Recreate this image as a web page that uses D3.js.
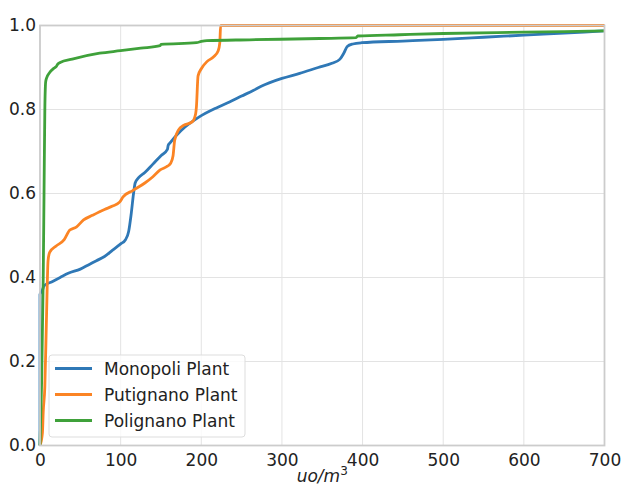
<!DOCTYPE html>
<html>
<head>
<meta charset="utf-8">
<script src="https://cdn.jsdelivr.net/npm/d3@7"></script>
<style>
  body { margin: 0; background: #fff; }
  svg { display: block; font-family: "DejaVu Sans", sans-serif; }
</style>
</head>
<body>
<div id="chart"></div>
<script>
// odour concentration (uo/m3) vs cumulative fraction
var monopoliX = [0, 0, 3, 5, 15, 25, 35, 50, 60, 70, 80, 90, 100, 106, 110, 113, 116, 118, 122, 130, 140, 150, 158, 159, 161, 175, 198, 220, 235, 250, 265, 275, 285, 300, 322, 345, 362, 372, 377, 381, 388, 399, 450, 500, 550, 600, 650, 700];
var monopoliY = [0, 0.36, 0.37, 0.38, 0.39, 0.40, 0.41, 0.42, 0.43, 0.44, 0.45, 0.465, 0.48, 0.49, 0.51, 0.55, 0.60, 0.625, 0.637, 0.65, 0.67, 0.69, 0.705, 0.715, 0.72, 0.75, 0.783, 0.805, 0.818, 0.832, 0.846, 0.856, 0.864, 0.874, 0.886, 0.90, 0.91, 0.92, 0.935, 0.95, 0.956, 0.959, 0.963, 0.967, 0.972, 0.977, 0.982, 0.987];

var putignanoX = [0, 3, 4, 6, 8, 10, 12, 20, 30, 37, 45, 54, 65, 80, 90, 99, 103, 115, 130, 140, 149, 158, 162, 165, 167, 172, 178, 189, 193, 194, 196, 200, 207, 215, 221, 223, 224, 400, 700];
var putignanoY = [0, 0.03, 0.08, 0.14, 0.30, 0.44, 0.46, 0.475, 0.49, 0.513, 0.52, 0.537, 0.548, 0.562, 0.57, 0.58, 0.592, 0.607, 0.625, 0.64, 0.656, 0.665, 0.672, 0.69, 0.727, 0.752, 0.762, 0.771, 0.79, 0.807, 0.88, 0.897, 0.914, 0.925, 0.94, 0.96, 1.0, 1.0, 1.0];

var polignanoX = [0, 2, 4, 5, 6, 7, 8, 12, 17, 20, 22, 25, 40, 74, 100, 125, 149, 150, 194, 200, 207, 260, 347, 392, 394, 446, 500, 600, 700];
var polignanoY = [0, 0.15, 0.4, 0.6, 0.8, 0.865, 0.874, 0.888, 0.898, 0.902, 0.908, 0.912, 0.92, 0.934, 0.94, 0.946, 0.952, 0.955, 0.959, 0.962, 0.964, 0.966, 0.969, 0.971, 0.975, 0.978, 0.981, 0.984, 0.987];

var seriesNames = ["Monopoli Plant", "Putignano Plant", "Polignano Plant"];
var seriesColors = ["#2f78b6", "#fb8424", "#3fa13a"];
var xTicks = [0, 100, 200, 300, 400, 500, 600, 700];
var yTicks = [0.0, 0.2, 0.4, 0.6, 0.8, 1.0];

var width = 622, height = 485;
var margin = { left: 40, right: 17.5, top: 25.5, bottom: 39.5 };

var series = [
  { name: seriesNames[0], color: seriesColors[0], xs: monopoliX, ys: monopoliY },
  { name: seriesNames[1], color: seriesColors[1], xs: putignanoX, ys: putignanoY },
  { name: seriesNames[2], color: seriesColors[2], xs: polignanoX, ys: polignanoY }
];

var svg = d3.select("#chart").append("svg")
  .attr("width", width)
  .attr("height", height);

var x = d3.scaleLinear().domain([0, 700]).range([margin.left, width - margin.right]);
var y = d3.scaleLinear().domain([0, 1]).range([height - margin.bottom, margin.top]);

// grid
svg.append("g").selectAll("line.vx")
  .data(xTicks)
  .enter().append("line")
  .attr("x1", function (d) { return x(d); })
  .attr("x2", function (d) { return x(d); })
  .attr("y1", y(0)).attr("y2", y(1))
  .attr("stroke", "#e3e3e3").attr("stroke-width", 1);
svg.append("g").selectAll("line.hy")
  .data(yTicks)
  .enter().append("line")
  .attr("y1", function (d) { return y(d); })
  .attr("y2", function (d) { return y(d); })
  .attr("x1", x(0)).attr("x2", x(700))
  .attr("stroke", "#e3e3e3").attr("stroke-width", 1);

// curves
svg.append("defs").append("clipPath").attr("id", "plotclip")
  .append("rect")
  .attr("x", x(0) - 2).attr("y", y(1) - 2)
  .attr("width", x(700) - x(0) + 4).attr("height", y(0) - y(1) + 4);

var line = d3.line()
  .x(function (d) { return x(d[0]); })
  .y(function (d) { return y(d[1]); })
  .curve(d3.curveMonotoneX);

svg.append("g").attr("clip-path", "url(#plotclip)")
  .selectAll("path")
  .data(series)
  .enter().append("path")
  .attr("fill", "none")
  .attr("stroke", function (d) { return d.color; })
  .attr("stroke-width", 2.8)
  .attr("stroke-linejoin", "round")
  .attr("stroke-linecap", "butt")
  .attr("d", function (d) { return line(d3.zip(d.xs, d.ys)); });

// frame
svg.append("rect")
  .attr("x", x(0)).attr("y", y(1))
  .attr("width", x(700) - x(0)).attr("height", y(0) - y(1))
  .attr("fill", "none")
  .attr("stroke", "#cccccc")
  .attr("stroke-width", 1.8);

// axes
var xAxis = svg.append("g")
  .attr("transform", "translate(0," + y(0) + ")")
  .call(d3.axisBottom(x).tickValues(xTicks).tickSize(0).tickPadding(8).tickFormat(d3.format("d")));
var yAxis = svg.append("g")
  .attr("transform", "translate(" + x(0) + ",0)")
  .call(d3.axisLeft(y).tickValues(yTicks).tickSize(0).tickPadding(4).tickFormat(d3.format(".1f")));
[xAxis, yAxis].forEach(function (a) {
  a.select(".domain").remove();
  a.selectAll("text")
    .attr("fill", "#222")
    .style("font-size", "17px")
    .style("font-family", "DejaVu Sans");
});

// x label
var xl = svg.append("text")
  .attr("x", (x(0) + x(700)) / 2)
  .attr("y", 482)
  .attr("text-anchor", "middle")
  .attr("fill", "#222")
  .style("font-size", "17px")
  .style("font-style", "italic");
xl.append("tspan").text("uo/m");
xl.append("tspan").attr("dy", -7).style("font-size", "12px").style("font-style", "normal").text("3");

// legend
var legend = svg.append("g");
legend.append("rect")
  .attr("x", 49).attr("y", 355)
  .attr("width", 196).attr("height", 82)
  .attr("rx", 3)
  .attr("fill", "#fff").attr("fill-opacity", 0.8)
  .attr("stroke", "#dddddd").attr("stroke-width", 1);
var items = legend.selectAll("g.item")
  .data(series)
  .enter().append("g")
  .attr("transform", function (d, i) { return "translate(0," + (368.5 + i * 26) + ")"; });
items.append("line")
  .attr("x1", 55).attr("x2", 92)
  .attr("y1", 0).attr("y2", 0)
  .attr("stroke", function (d) { return d.color; })
  .attr("stroke-width", 2.8);
items.append("text")
  .attr("x", 104).attr("y", 6)
  .attr("fill", "#222")
  .style("font-size", "17px")
  .text(function (d) { return d.name; });
</script>
</body>
</html>
